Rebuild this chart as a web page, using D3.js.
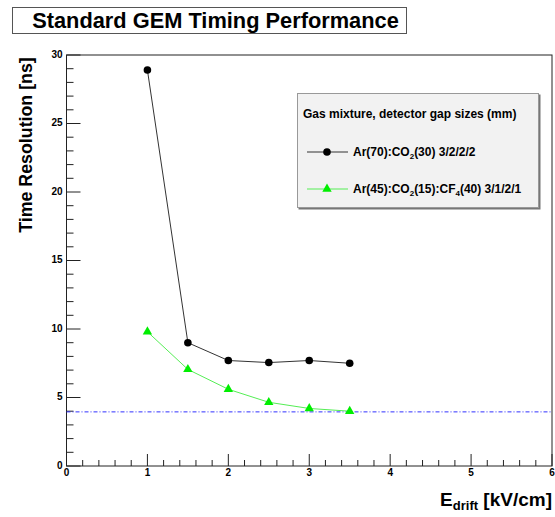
<!DOCTYPE html>
<html>
<head>
<meta charset="utf-8">
<script src="https://cdn.jsdelivr.net/npm/d3@7"></script>
<style>
  body { margin: 0; background: #fff; }
  text { font-family: "Liberation Sans", Arial, sans-serif; font-weight: bold; }
</style>
</head>
<body>
<svg id="chart" width="555" height="517"></svg>
<script>
// drift field values (kV/cm)
const eDrift = [1, 1.5, 2, 2.5, 3, 3.5];
// time resolution (ns)
const arCo2 = [28.9, 9.0, 7.7, 7.55, 7.7, 7.5];
const arCo2Cf4 = [9.8, 7.05, 5.6, 4.65, 4.2, 4.0];
const refLevel = 3.95;
const xTicks = [0, 1, 2, 3, 4, 5, 6];
const yTicks = [0, 5, 10, 15, 20, 25, 30];

const svg = d3.select("#chart");
const frame = {left: 66.5, right: 552, top: 55, bottom: 466};

const x = d3.scaleLinear().domain([0, 6]).range([frame.left, frame.right]);
const y = d3.scaleLinear().domain([0, 30]).range([frame.bottom, frame.top]);

// title box
svg.append("rect")
  .attr("x", 12.5).attr("y", 7.5).attr("width", 394).attr("height", 26)
  .attr("fill", "#fff").attr("stroke", "#555");
svg.append("text")
  .attr("x", 215.5).attr("y", 28)
  .attr("text-anchor", "middle")
  .style("font-size", "21.8px")
  .text("Standard GEM Timing Performance");

// frame
svg.append("rect")
  .attr("x", frame.left).attr("y", frame.top)
  .attr("width", frame.right - frame.left).attr("height", frame.bottom - frame.top)
  .attr("fill", "none").attr("stroke", "#222");

// x ticks (inside, ROOT style)
const xMinor = d3.range(0, 6.001, 0.2);
svg.append("g").selectAll("line").data(xMinor).join("line")
  .attr("x1", d => x(d)).attr("x2", d => x(d))
  .attr("y1", frame.bottom)
  .attr("y2", d => Math.abs(d - Math.round(d)) < 1e-6 ? frame.bottom - 12 : frame.bottom - 6)
  .attr("stroke", "#222");
svg.append("g").selectAll("text").data(xTicks).join("text")
  .attr("x", d => x(d)).attr("y", frame.bottom + 10)
  .attr("text-anchor", "middle")
  .style("font-size", "10px")
  .text(d => d);

// y ticks
const yMinor = d3.range(0, 30.001, 1);
svg.append("g").selectAll("line").data(yMinor).join("line")
  .attr("y1", d => y(d)).attr("y2", d => y(d))
  .attr("x1", frame.left)
  .attr("x2", d => d % 5 === 0 ? frame.left + 14 : frame.left + 7)
  .attr("stroke", "#222");
svg.append("g").selectAll("text").data(yTicks).join("text")
  .attr("x", frame.left - 4).attr("y", d => y(d) + 2.5)
  .attr("text-anchor", "end")
  .style("font-size", "10px")
  .text(d => d);

// axis titles
svg.append("text")
  .attr("transform", "translate(32,145) rotate(-90)")
  .attr("text-anchor", "middle")
  .style("font-size", "17.8px")
  .text("Time Resolution [ns]");

const xt = svg.append("text")
  .attr("x", frame.right).attr("y", 506)
  .attr("text-anchor", "end")
  .style("font-size", "19px");
xt.append("tspan").text("E");
xt.append("tspan").attr("dy", 4).style("font-size", "13px").text("drift");
xt.append("tspan").attr("dy", -4).text(" [kV/cm]");

// reference line
svg.append("line")
  .attr("x1", x(0)).attr("x2", x(6))
  .attr("y1", y(refLevel)).attr("y2", y(refLevel))
  .attr("stroke", "#3030ff").attr("stroke-width", 1)
  .attr("stroke-dasharray", "4,2,1,2");

const line = d3.line().x(d => x(d[0])).y(d => y(d[1]));
const green = "#00ee00";

// green series
svg.append("path")
  .attr("d", line(eDrift.map((e, i) => [e, arCo2Cf4[i]])))
  .attr("fill", "none").attr("stroke", "#55ee55").attr("stroke-width", 1);
const tri = d3.symbol().type(d3.symbolTriangle).size(38);
svg.append("g").selectAll("path").data(eDrift).join("path")
  .attr("transform", (d, i) => `translate(${x(d)},${y(arCo2Cf4[i])})`)
  .attr("d", tri)
  .attr("fill", green);

// black series
svg.append("path")
  .attr("d", line(eDrift.map((e, i) => [e, arCo2[i]])))
  .attr("fill", "none").attr("stroke", "#333").attr("stroke-width", 1);
svg.append("g").selectAll("circle").data(eDrift).join("circle")
  .attr("cx", d => x(d)).attr("cy", (d, i) => y(arCo2[i]))
  .attr("r", 3.8)
  .attr("fill", "#000");

// legend
const lg = svg.append("g").attr("transform", "translate(297,93)");
lg.append("rect")
  .attr("x", 1.5).attr("y", 1.5).attr("width", 242).attr("height", 115)
  .attr("fill", "#777");
lg.append("rect")
  .attr("x", 0.5).attr("y", 0.5).attr("width", 241).attr("height", 114)
  .attr("fill", "#f2f2f2").attr("stroke", "#999");
lg.append("text")
  .attr("x", 6).attr("y", 24.5)
  .style("font-size", "12px")
  .text("Gas mixture, detector gap sizes (mm)");

// entry 1
lg.append("line").attr("x1", 10).attr("x2", 51).attr("y1", 59).attr("y2", 59)
  .attr("stroke", "#333");
lg.append("circle").attr("cx", 30).attr("cy", 59).attr("r", 3.8).attr("fill", "#000");
const t1 = lg.append("text").attr("x", 56).attr("y", 63).style("font-size", "12px");
t1.append("tspan").text("Ar(70):CO");
t1.append("tspan").attr("dy", 3).style("font-size", "8px").text("2");
t1.append("tspan").attr("dy", -3).text("(30) 3/2/2/2");

// entry 2
lg.append("line").attr("x1", 10).attr("x2", 51).attr("y1", 96).attr("y2", 96)
  .attr("stroke", "#55ee55");
lg.append("path").attr("transform", "translate(30,96)").attr("d", tri).attr("fill", green);
const t2 = lg.append("text").attr("x", 56).attr("y", 100).style("font-size", "12px");
t2.append("tspan").text("Ar(45):CO");
t2.append("tspan").attr("dy", 3).style("font-size", "8px").text("2");
t2.append("tspan").attr("dy", -3).text("(15):CF");
t2.append("tspan").attr("dy", 3).style("font-size", "8px").text("4");
t2.append("tspan").attr("dy", -3).text("(40) 3/1/2/1");
</script>
</body>
</html>
